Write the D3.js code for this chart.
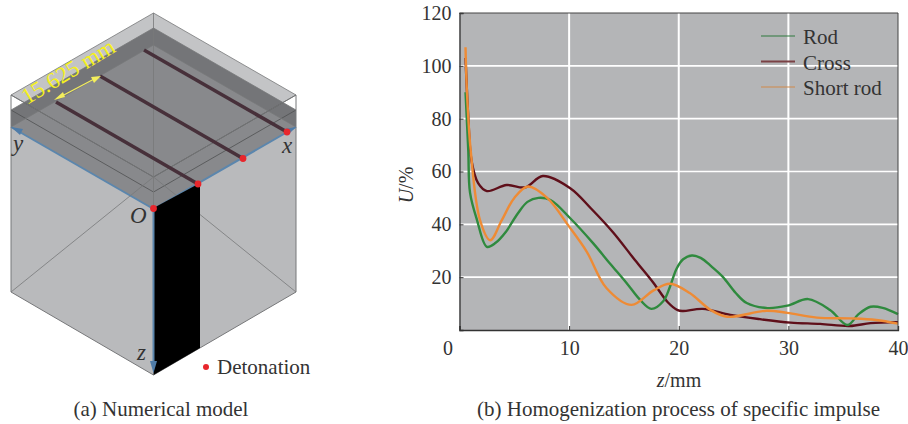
<!DOCTYPE html>
<html>
<head>
<meta charset="utf-8">
<script src="https://cdn.jsdelivr.net/npm/d3@7"></script>
<style>
body { margin: 0; background: #fff; }
svg { display: block; }
text { font-family: "Liberation Serif", serif; fill: #333; }
</style>
</head>
<body>
<svg id="chart" width="908" height="424"></svg>
<script>
// ---- curve data ----
var rodZ = [0.55, 0.8, 0.96, 1.6, 2.5, 3.3, 4.2, 5.3, 6.2, 7.2, 8.3, 10.1, 12.2, 13.7, 15.2, 16.5, 17.5, 18.6, 19.2, 19.8, 20.4, 21.2, 22, 23, 24, 25.2, 26.2, 28.1, 29.9, 31.8, 33.8, 35.4, 36.4, 37.5, 38.6, 40];
var rodU = [90, 68, 52, 41.6, 31.5, 33, 37, 44, 48.5, 50, 49.2, 42.3, 32.8, 25.3, 18, 11.3, 8, 11, 16.4, 23.2, 26.8, 28.2, 27.3, 24, 20.2, 14, 10.2, 8.3, 9.2, 11.7, 7.6, 1.9, 6, 8.8, 8.4, 6];

var crossZ = [0.55, 0.8, 1.1, 1.7, 2.5, 4.3, 6, 7.6, 10.1, 12, 14, 16, 17.7, 19, 19.9, 20.4, 22.2, 24.7, 27.4, 30.2, 32.9, 35.6, 37.5, 40];
var crossU = [103, 80.6, 64, 55.6, 52.6, 54.9, 54, 58.3, 53.7, 46, 37, 26.5, 17.8, 10.5, 7.5, 7.2, 8, 5.7, 4.1, 2.8, 2.3, 1.5, 2.6, 3];

var shortZ = [0.55, 0.66, 1.02, 1.87, 2.8, 3.85, 5, 6.25, 8, 9.9, 11.6, 13.4, 15.7, 17.7, 19.2, 21, 22.9, 24.4, 28, 29.9, 32.6, 35.6, 38, 40];
var shortU = [107, 92, 68, 41.6, 34, 41.5, 50, 54.3, 50, 39.7, 29.7, 15.9, 9.5, 15, 17.5, 14, 7.6, 5, 7.3, 6.5, 4.7, 4.4, 3.8, 2.4];

var xTicks = [0, 10, 20, 30, 40];
var yTicks = [20, 40, 60, 80, 100, 120];
var seriesNames = ["Rod", "Cross", "Short rod"];

var svg = d3.select("#chart");

///////////////////// (a) model drawing /////////////////////
// isometric box: u runs toward x, v toward y, h down the page
var iso = function (u, v, h) {
  return [153.5 + u * 142.5 - v * 142.5, 13 + 82 * (2 - u - v) + h];
};
var poly = function (pts) { return pts.map(function (p) { return iso(p[0], p[1], p[2]).join(","); }).join(" "); };
var lineOf = function (a, b, color, w) {
  var p = iso(a[0], a[1], a[2]), q = iso(b[0], b[1], b[2]);
  return svg.append("line").attr("x1", p[0]).attr("y1", p[1]).attr("x2", q[0]).attr("y2", q[1])
    .attr("stroke", color).attr("stroke-width", w);
};
var edge = "#77787a";
var model = [
  [[[1,1,0],[0,1,0],[0,0,0],[1,0,0]], "#c3c4c6"],        // top
  [[[1,1,15],[0,1,15],[0,1,32],[0,0,32],[1,0,32],[1,0,15]], "#747578"], // band
  [[[1,1,32],[0,1,32],[0,0,32],[1,0,32]], "#88898c"],    // inner top
  [[[0,0,32],[0,1,32],[0,1,197],[0,0,198]], "#b9babc"],  // left face
  [[[0,0,32],[1,0,32],[1,0,197],[0,0,198]], "#b9babc"]   // right face
];
model.forEach(function (m) {
  svg.append("polygon").attr("points", poly(m[0])).attr("fill", m[1]);
});
[0, 15, 32].forEach(function (h) {
  lineOf([1,1,h],[0,1,h], edge, 0.8);
  lineOf([1,1,h],[1,0,h], edge, 0.8);
  lineOf([0,1,h],[0,0,h], h == 32 ? "#5b86ad" : "#4f5052", h == 32 ? 2 : 0.8);
  lineOf([1,0,h],[0,0,h], h == 32 ? "#5b86ad" : "#4f5052", h == 32 ? 2 : 0.8);
});
lineOf([1,1,0],[1,1,164], edge, 0.8);
lineOf([1,1,164],[0,1,197], edge, 0.8);
lineOf([1,1,164],[1,0,197], edge, 0.8);
lineOf([0,1,0],[0,1,197], edge, 1);
lineOf([1,0,0],[1,0,197], edge, 1);
lineOf([0,1,0],[0,0,0], edge, 0.8);
lineOf([1,0,0],[0,0,0], edge, 0.8);
lineOf([0,1,197],[0,0,198], edge, 1);
lineOf([1,0,197],[0,0,198], edge, 1);
lineOf([0,0,0],[0,0,32], edge, 0.8);

// black strip under the first rod
svg.append("polygon").attr("points", "153.5,208 200,183 200,348 153.5,375").attr("fill", "#000");

// rods and detonation points
var rodStarts = [[56,102],[100,76],[144,50]];
var detonate = [[198,184],[243,158.5],[287,132],[153.5,208.5]];
rodStarts.forEach(function (s, i) {
  svg.append("line").attr("x1", s[0]).attr("y1", s[1]).attr("x2", detonate[i][0]).attr("y2", detonate[i][1])
    .attr("stroke", "#47303a").attr("stroke-width", 3.6);
});
// axis arrows
svg.append("line").attr("x1", 153.5).attr("y1", 208).attr("x2", 153.5).attr("y2", 368).attr("stroke", "#5b86ad").attr("stroke-width", 2);
svg.append("polygon").attr("points", "150,361 157,361 153.5,373").attr("fill", "#4f7ca8");
svg.append("polygon").attr("points", "11,127 23,129 20,135").attr("fill", "#4f7ca8");
svg.append("polygon").attr("points", "296,127 285,129 288,135").attr("fill", "#4f7ca8");
svg.selectAll("circle.det").data(detonate).enter().append("circle").attr("class", "det")
  .attr("cx", function (d) { return d[0]; }).attr("cy", function (d) { return d[1]; })
  .attr("r", 3.4).attr("fill", "#e8262c");
svg.append("circle").attr("cx", 206).attr("cy", 367).attr("r", 3).attr("fill", "#e8262c");

// yellow dimension
svg.append("line").attr("x1", 60).attr("y1", 97).attr("x2", 96).attr("y2", 78).attr("stroke", "#f4ee5c").attr("stroke-width", 1.2);
svg.append("polygon").attr("points", "54,100 63,92 65,97").attr("fill", "#f4ee5c");
svg.append("polygon").attr("points", "101,76 91,77 94,83").attr("fill", "#f4ee5c");
svg.append("text").attr("transform", "translate(27,105) rotate(-31)").attr("font-size", 23)
  .style("fill", "#f5f01e").text("15.625 mm");

var italics = [["y", 13, 151], ["x", 282, 153], ["O", 130, 223], ["z", 137, 360]];
italics.forEach(function (d) {
  svg.append("text").attr("x", d[1]).attr("y", d[2]).attr("font-size", 23)
    .attr("font-style", "italic").text(d[0]);
});
svg.append("text").attr("x", 217).attr("y", 374).attr("font-size", 21).text("Detonation");
svg.append("text").attr("x", 161).attr("y", 416).attr("text-anchor", "middle").attr("font-size", 21).text("(a) Numerical model");

///////////////////// (b) chart /////////////////////
var x = d3.scaleLinear().domain([0, 40]).range([459.5, 898]);
var y = d3.scaleLinear().domain([0, 120]).range([330, 13]);

svg.append("rect").attr("x", x(0)).attr("y", y(120)).attr("width", x(40) - x(0)).attr("height", y(0) - y(120)).attr("fill", "#b4b5b7");

// grid
svg.selectAll("line.gx").data(xTicks.slice(1, 4)).enter().append("line").attr("class", "gx")
  .attr("x1", x).attr("x2", x).attr("y1", y(0)).attr("y2", y(120)).attr("stroke", "#fff").attr("stroke-width", 2);
svg.selectAll("line.gy").data(yTicks.slice(0, 5)).enter().append("line").attr("class", "gy")
  .attr("x1", x(0)).attr("x2", x(40)).attr("y1", y).attr("y2", y).attr("stroke", "#fff").attr("stroke-width", 1.6);

// curves, cross goes underneath
var curves = [
  [crossZ, crossU, "#5f0f1a"],
  [rodZ, rodU, "#2f8a3e"],
  [shortZ, shortU, "#ee8b35"]
];
var lineGen = d3.line().x(function (d) { return x(d[0]); }).y(function (d) { return y(d[1]); }).curve(d3.curveCatmullRom.alpha(0.5));
curves.forEach(function (c) {
  svg.append("path").attr("d", lineGen(d3.zip(c[0], c[1]))).attr("fill", "none")
    .attr("stroke", c[2]).attr("stroke-width", 2.4);
});

// axes, ticks point inward
var xAxis = svg.append("g").attr("transform", "translate(0," + y(0) + ")")
  .call(d3.axisBottom(x).tickValues(xTicks).tickSize(-4).tickPadding(11));
var yAxis = svg.append("g").attr("transform", "translate(" + x(0) + ",0)")
  .call(d3.axisLeft(y).tickValues(yTicks).tickSize(-4).tickPadding(8));
[xAxis, yAxis].forEach(function (a) {
  a.selectAll("text").attr("font-size", 20).style("font-family", '"Liberation Serif", serif').style("fill", "#333");
  a.selectAll("line").attr("stroke", "#333");
  a.select(".domain").attr("stroke", "#333").attr("stroke-width", 1.3);
});
// the 0 label sits off to the left of the corner, as in the figure
xAxis.selectAll(".tick").filter(function (d) { return d === 0; }).select("text").attr("dx", -12);
svg.append("line").attr("x1", x(0)).attr("x2", x(40)).attr("y1", y(120)).attr("y2", y(120)).attr("stroke", "#444").attr("stroke-width", 1);
svg.append("line").attr("x1", x(40)).attr("x2", x(40)).attr("y1", y(120)).attr("y2", y(0)).attr("stroke", "#444").attr("stroke-width", 1);

// axis titles
var xTitle = svg.append("text").attr("x", 679).attr("y", 387).attr("text-anchor", "middle").attr("font-size", 20);
xTitle.append("tspan").attr("font-style", "italic").text("z");
xTitle.append("tspan").text("/mm");
var yTitle = svg.append("text").attr("transform", "translate(413,185) rotate(-90)").attr("text-anchor", "middle").attr("font-size", 20);
yTitle.append("tspan").attr("font-style", "italic").text("U");
yTitle.append("tspan").text("/%");

// legend
var legendColors = ["#2f7a3e", "#7a4145", "#d08a4a"];
var legendWidths = [1.2, 2.2, 1.2];
var legendY = d3.scalePoint().domain(seriesNames).range([36, 87]);
seriesNames.forEach(function (n, i) {
  svg.append("line").attr("x1", 761).attr("x2", 795).attr("y1", legendY(n)).attr("y2", legendY(n))
    .attr("stroke", legendColors[i]).attr("stroke-width", legendWidths[i]);
  svg.append("text").attr("x", 803).attr("y", legendY(n) + 8).attr("font-size", 21).text(n);
});

svg.append("text").attr("x", 678.5).attr("y", 416).attr("text-anchor", "middle").attr("font-size", 21)
  .text("(b) Homogenization process of specific impulse");
</script>
</body>
</html>
